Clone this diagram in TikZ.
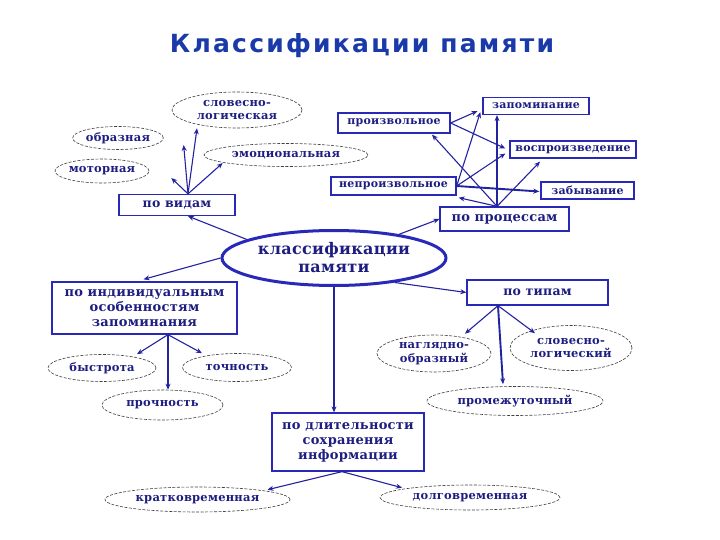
\documentclass[tikz,border=0pt]{standalone}
\usepackage{fontspec}
\usetikzlibrary{shapes.geometric,arrows.meta}
\newfontfamily\nodefont[LetterSpace=2]{DejaVu Serif}
\newfontfamily\titlefont[LetterSpace=9]{DejaVu Sans}
\definecolor{navy}{RGB}{30,30,130}
\definecolor{boxblue}{RGB}{40,40,185}
\definecolor{arrblue}{RGB}{35,35,160}
\definecolor{titleblue}{RGB}{26,58,170}
\newcommand{\fsz}[1]{\nodefont\bfseries\fontsize{#1}{#1}\selectfont}
\begin{document}
\begin{tikzpicture}[x=1pt,y=-1pt,
  box/.style={draw=boxblue, line width=1.3pt, rectangle, inner sep=0pt, text=navy, align=center,
    font=\fsz{12}},
  ell/.style={draw=black!75, dashed, dash pattern=on 3pt off 1.5pt, line width=0.6pt, ellipse, inner sep=0pt,
    text=navy, align=center, font=\fsz{11.5}},
  arr/.style={draw=arrblue, line width=1.1pt, -{Stealth[length=6pt,width=5pt]}},
  thick arr/.style={arr, line width=1.9pt}]
\path[use as bounding box, fill=white] (0,0) rectangle (720,540);

\node[font=\titlefont\bfseries\fontsize{25}{28}\selectfont, text=titleblue] (title) at (362,46) {Классификации памяти};

% по видам group
\node[ell, minimum width=130pt, minimum height=36pt] (slog) at (237,110) {словесно-\\[2pt]логическая};
\node[ell, minimum width=80pt, minimum height=23pt] (obraz) at (118,138) {образная};
\node[ell, minimum width=164pt, minimum height=23pt] (emot) at (286,155) {эмоциональная};
\node[ell, minimum width=89pt, minimum height=24pt] (motor) at (102,171) {моторная};
\node[box, minimum width=116pt, minimum height=21pt, font=\fsz{12.5}] (vidy) at (177,205) {по видам};

% central
\node[draw=boxblue, line width=3pt, ellipse, minimum width=224pt, minimum height=55pt, inner sep=0pt,
  text=navy, align=center, font=\fsz{16}] (klass) at (334,258) {классификации\\[2pt]памяти};

% по процессам group
\node[box, minimum width=112pt, minimum height=20pt, font=\fsz{11}] (proizv) at (394,123) {произвольное};
\node[box, minimum width=106pt, minimum height=17pt, font=\fsz{11}] (zapom) at (536,106) {запоминание};
\node[box, minimum width=126pt, minimum height=17pt, font=\fsz{11}] (vospr) at (573,149.5) {воспроизведение};
\node[box, minimum width=125pt, minimum height=18pt, font=\fsz{11}] (neproizv) at (393.5,186) {непроизвольное};
\node[box, minimum width=93pt, minimum height=17pt, font=\fsz{11}] (zabyv) at (587.5,190.5) {забывание};
\node[box, minimum width=129pt, minimum height=24pt, font=\fsz{13}] (proc) at (504.5,219) {по процессам};

% по индивидуальным group
\node[box, minimum width=185pt, minimum height=52pt, font=\fsz{13}] (indiv) at (144.5,308) {по индивидуальным\\[2pt]особенностям\\[2pt]запоминания};
\node[ell, minimum width=108pt, minimum height=27pt] (bystr) at (102,368) {быстрота};
\node[ell, minimum width=109pt, minimum height=28pt] (toch) at (237,367.5) {точность};
\node[ell, minimum width=121pt, minimum height=30pt] (proch) at (162.5,405) {прочность};

% по типам group
\node[box, minimum width=141pt, minimum height=25pt, font=\fsz{12.5}] (tipy) at (537.5,292.5) {по типам};
\node[ell, minimum width=114pt, minimum height=37pt] (nagl) at (434,353.5) {наглядно-\\[2pt]образный};
\node[ell, minimum width=122pt, minimum height=45pt] (slog2) at (571,348) {словесно-\\[2pt]логический};
\node[ell, minimum width=176pt, minimum height=29pt] (prom) at (515,401) {промежуточный};

% по длительности group
\node[box, minimum width=152pt, minimum height=58pt, font=\fsz{13}] (dlit) at (348,442) {по длительности\\[2pt]сохранения\\[2pt]информации};
\node[ell, minimum width=185pt, minimum height=25pt] (krat) at (197.5,499.5) {кратковременная};
\node[ell, minimum width=180pt, minimum height=25pt] (dolg) at (470,497.5) {долговременная};

% arrows: по видам
\coordinate (vo) at ([xshift=11pt]vidy.north);
\draw[arr] (vo) -- ([shift={(22,7)}]motor.east);
\draw[arr] (vo) -- ([shift={(20,7)}]obraz.east);
\draw[arr] (vo) -- ([shift={(-40,0)}]slog.south);
\draw[arr] (vo) -- ([shift={(19,8)}]emot.west);

% arrows from central
\draw[arr] (klass.168) -- ([xshift=11pt]vidy.south);
\draw[arr] (klass.20) -- (proc.west);
\draw[arr] (klass.west) -- ([shift={(-1,-2)}]indiv.north);
\draw[arr] (klass.-22) -- (tipy.west);
\draw[arr] (klass.south) -- (klass.south |- dlit.north);

% arrows: по процессам
\coordinate (po) at ([xshift=-7.5pt]proc.north);
\draw[arr] (po) -- ([shift={(38,1)}]proizv.south);
\draw[thick arr] (po) -- (po |- zapom.south);
\draw[arr] (po) -- ([shift={(-33,3)}]vospr.south);
\draw[arr] (po) -- ([shift={(2,2)}]neproizv.south east);
\draw[arr] (proizv.east) -- ([shift={(-5,-4)}]zapom.south west);
\draw[arr] (proizv.east) -- ([shift={(-4,-1)}]vospr.west);
\draw[arr] (neproizv.east) -- ([shift={(-2,-3)}]zapom.south west);
\draw[arr] (neproizv.east) -- ([shift={(-4,4)}]vospr.west);
\draw[thick arr] (neproizv.east) -- ([shift={(-1,1)}]zabyv.west);

% arrows: по индивидуальным
\coordinate (io) at ([xshift=23.5pt]indiv.south);
\draw[arr] (io) -- ([shift={(35,0)}]bystr.north);
\draw[arr] (io) -- ([shift={(-35,0)}]toch.north);
\draw[arr] (io) -- (io |- proch.north);

% arrows: по типам
\coordinate (to) at ([xshift=-39.5pt]tipy.south);
\draw[arr] (to) -- ([shift={(31,-1)}]nagl.north);
\draw[arr] (to) -- ([shift={(-36,8)}]slog2.north);
\draw[thick arr] (to) -- ([shift={(-12,-2)}]prom.north);

% arrows: по длительности
\coordinate (dlo) at ([xshift=-6pt]dlit.south);
\draw[arr] (dlo) -- ([shift={(70,3)}]krat.north);
\draw[arr] (dlo) -- ([shift={(-68,3)}]dolg.north);
\end{tikzpicture}
\end{document}
